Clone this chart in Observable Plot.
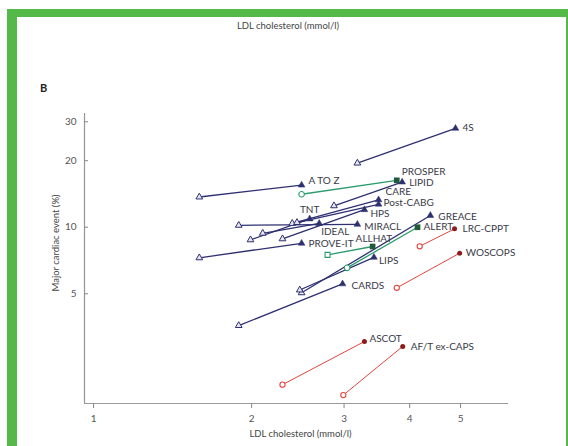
<!DOCTYPE html>
<html>
<head>
<meta charset="utf-8">
<script src="https://cdn.jsdelivr.net/npm/d3@7"></script>
<script src="https://cdn.jsdelivr.net/npm/@observablehq/plot@0.6"></script>
<style>
  html, body { margin: 0; padding: 0; background: #fff; overflow: hidden; }
  #wrap { position: relative; width: 568px; height: 446px; overflow: hidden; }
  #frame { position: absolute; left: 7px; top: 9px; width: 549px; height: 600px;
           border-left: 10px solid #54b948; border-top: 8px solid #54b948; border-right: 10px solid #54b948; }
  #chart { position: absolute; left: 0; top: 0; }
  .note { position: absolute; font-family: Lato, "Open Sans", sans-serif; color: #444; white-space: nowrap; }
  #toptitle { left: 288px; top: 20px; transform: translateX(-50%); font-size: 9.5px; }
  #panel { left: 40px; top: 81px; font-size: 11px; font-weight: bold; color: #222; }
</style>
</head>
<body>
<div id="wrap">
  <div id="frame"></div>
  <div id="chart"></div>
  <div class="note" id="toptitle">LDL cholesterol (mmol/l)</div>
  <div class="note" id="panel">B</div>
</div>
<script>
// ---- data ----
const trials = ["4S","LIPID","PROSPER","A TO Z","CARE","Post-CABG","HPS","TNT","MIRACL","IDEAL",
                "PROVE-IT","ALLHAT","GREACE","ALERT","LRC-CPPT","WOSCOPS","LIPS","CARDS","ASCOT","AF/T ex-CAPS"];
const controlLDL   = [4.89,3.87,3.78,2.49,3.49,3.49,3.28,2.58,3.18,2.69,2.49,3.40,4.38,4.14,4.87,4.98,3.42,2.98,3.28,3.88];
const controlEvent = [28.0,16.0,16.3,15.5,13.3,12.7,12.0,10.9,10.3,10.4,8.46,8.18,11.3,10.0,9.83,7.63,7.31,5.54,3.04,2.89];
const treatedLDL   = [3.18,2.87,2.49,1.59,2.39,2.44,2.29,1.99,1.89,2.10,1.59,2.79,2.49,3.04,4.18,3.78,2.47,1.89,2.29,2.99];
const treatedEvent = [19.5,12.5,14.1,13.7,10.4,10.5,8.86,8.77,10.2,9.39,7.27,7.50,5.05,6.55,8.20,5.32,5.20,3.59,1.94,1.74];
const family = ["sec","sec","green","sec","sec","sec","sec","sec","sec","sec",
                "sec","green","sec","green","red","red","sec","sec","red","red"];
const xTicks = [1,2,3,4,5];
const yTicks = [5,10,20,30];
const xTitle = "LDL cholesterol (mmol/l)";
const yTitle = "Major cardiac event (%)";

// ---- styles / layout ----
const xDomain = [0.961, 6.17];
const yDomain = [1.594, 32.7];
const lineColor  = {sec: "#2e3070", green: "#2c9c6c", red: "#e2453c"};
const fillColor  = {sec: "#2e3070", green: "#1f5a3a", red: "#8e1b1b"};
const openSymbol = {"ALLHAT": "square"};
const labelNudge = {
  "4S": [7,-1], "LIPID": [7,1], "PROSPER": [5,-9], "A TO Z": [7,-4], "CARE": [7,-8],
  "Post-CABG": [5,-1], "HPS": [6,4], "TNT": [0,-9,"middle"], "MIRACL": [7,2], "IDEAL": [2,8],
  "PROVE-IT": [7,1], "ALLHAT": [-17,-8], "GREACE": [8,1], "ALERT": [6,0], "LRC-CPPT": [8,0],
  "WOSCOPS": [6,0], "LIPS": [5,3], "CARDS": [9,2], "ASCOT": [5,-3], "AF/T ex-CAPS": [8,0]
};

const rows = trials.map((t, i) => ({
  trial: t, fam: family[i],
  cx: controlLDL[i], cy: controlEvent[i], tx: treatedLDL[i], ty: treatedEvent[i]
}));

const labelMarks = rows.map(r => {
  const n = labelNudge[r.trial] || [7,0];
  return Plot.text([r], {x: "cx", y: "cy", text: "trial", dx: n[0], dy: n[1],
    textAnchor: n[2] || "start", fill: "#3a3a48", fontSize: 10,
    fontFamily: "Lato, 'Open Sans', sans-serif"});
});

const chart = Plot.plot({
  width: 568, height: 446,
  marginLeft: 84, marginRight: 60, marginTop: 113, marginBottom: 43,
  style: {background: "transparent", fontFamily: "Lato, 'Open Sans', sans-serif"},
  x: {type: "log", domain: xDomain},
  y: {type: "log", domain: yDomain},
  marks: [
    Plot.ruleX([xDomain[0]], {stroke: "#9a9393", strokeWidth: 1.2}),
    Plot.ruleY([yDomain[0]], {stroke: "#9a9a9a", strokeWidth: 1.2}),
    Plot.axisX({ticks: xTicks, tickFormat: d => String(d), tickSize: 5, tickPadding: 6,
                fontSize: 10, color: "#555", stroke: "#888", label: null}),
    Plot.axisY({ticks: yTicks, tickFormat: d => String(d), tickSize: -4, tickPadding: 12,
                fontSize: 10, color: "#555", stroke: "#888", label: null}),
    Plot.text([xTitle], {frameAnchor: "bottom", dy: 33, fontSize: 9.5, fill: "#444", dx: 4}),
    Plot.text([yTitle], {frameAnchor: "left", rotate: -90, dx: -29, dy: 33, fontSize: 9.5, fill: "#444"}),
    Plot.link(rows, {x1: "cx", y1: "cy", x2: "tx", y2: "ty",
                     stroke: d => lineColor[d.fam], strokeWidth: d => d.fam === "red" ? 1 : 1.3}),
    Plot.dot(rows.filter(d => d.fam === "sec"), {x: "tx", y: "ty", symbol: "triangle", r: 2.5,
                     fill: "#e6e6f2", stroke: lineColor.sec, strokeWidth: 1}),
    Plot.dot(rows.filter(d => d.fam === "sec"), {x: "cx", y: "cy", symbol: "triangle", r: 2.5,
                     fill: fillColor.sec, stroke: fillColor.sec, strokeWidth: 0.5}),
    Plot.dot(rows.filter(d => d.fam === "green"), {x: "tx", y: "ty",
                     symbol: d => openSymbol[d.trial] || "circle", r: 2.8,
                     fill: "white", stroke: lineColor.green, strokeWidth: 1.1}),
    Plot.dot(rows.filter(d => d.fam === "green"), {x: "cx", y: "cy", symbol: "square", r: 3.2,
                     fill: fillColor.green, stroke: "none"}),
    Plot.dot(rows.filter(d => d.fam === "red"), {x: "tx", y: "ty", symbol: "circle", r: 2.6,
                     fill: "white", stroke: lineColor.red, strokeWidth: 1.1}),
    Plot.dot(rows.filter(d => d.fam === "red"), {x: "cx", y: "cy", symbol: "circle", r: 2.5,
                     fill: fillColor.red, stroke: "none"}),
    ...labelMarks
  ]
});
document.getElementById("chart").appendChild(chart);
</script>
</body>
</html>
